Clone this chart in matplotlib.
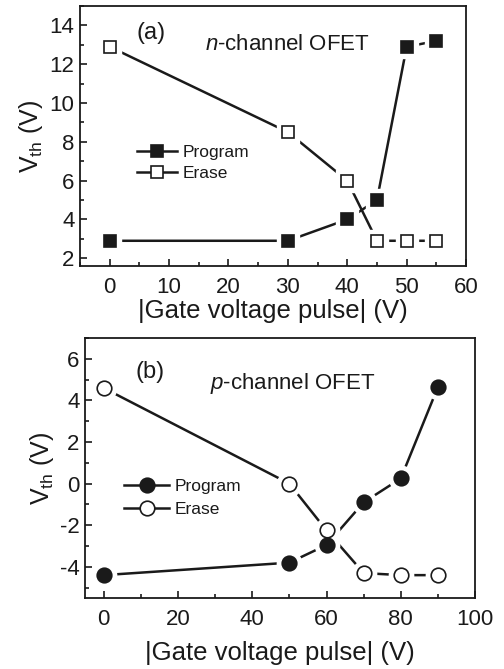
import matplotlib
matplotlib.use("Agg")
import matplotlib.pyplot as plt
from matplotlib.lines import Line2D
from matplotlib.ticker import MultipleLocator

plt.rcParams['font.family'] = ['Liberation Sans', 'DejaVu Sans']
plt.rcParams['mathtext.fontset'] = 'custom'
plt.rcParams['mathtext.rm'] = 'Liberation Sans'
plt.rcParams['mathtext.it'] = 'Liberation Sans:italic'
plt.rcParams['axes.unicode_minus'] = False

# Panel (a): n-channel OFET
a_x = [0, 30, 40, 45, 50, 55]
a_program = [2.9, 2.9, 4.0, 5.0, 12.9, 13.2]
a_erase = [12.9, 8.5, 6.0, 2.9, 2.9, 2.9]

# Panel (b): p-channel OFET
b_x = [0, 50, 60, 70, 80, 90]
b_program = [-4.4, -3.8, -2.95, -0.9, 0.25, 4.65]
b_erase = [4.6, 0.0, -2.25, -4.3, -4.4, -4.4]

fig = plt.figure(figsize=(5.04, 6.69), dpi=100)
ax1 = fig.add_axes([0.1587, 0.6024, 0.766, 0.3886])
ax2 = fig.add_axes([0.1687, 0.1061, 0.774, 0.3886])

LW = 1.8
DARK = '#1a1a1a'

def series(ax, x, y, marker, ms, filled):
    ax.plot(x, y, '-', color=DARK, lw=LW, zorder=2)
    ax.plot(x, y, ls='none', marker=marker, ms=ms + 7, mfc='white', mec='white', zorder=3)
    ax.plot(x, y, ls='none', marker=marker, ms=ms, mfc=DARK if filled else 'white',
            mec=DARK, mew=1.2, zorder=4)
    return Line2D([], [], color=DARK, lw=LW, marker=marker, ms=ms,
                  mfc=DARK if filled else 'white', mec=DARK, mew=1.2)

h1 = series(ax1, a_x, a_program, 's', 8.8, True)
h2 = series(ax1, a_x, a_erase, 's', 8.8, False)
h3 = series(ax2, b_x, b_program, 'o', 10.5, True)
h4 = series(ax2, b_x, b_erase, 'o', 10.5, False)

for ax, lp in ((ax1, 0.5), (ax2, 8)):
    ax.tick_params(axis='both', which='both', direction='in', top=False, right=False,
                   labelsize=16, width=1.2, colors=DARK)
    ax.tick_params(axis='x', which='major', pad=8)
    ax.tick_params(axis='y', which='major', pad=4)
    ax.tick_params(which='major', length=5)
    ax.tick_params(which='minor', length=3)
    for s in ax.spines.values():
        s.set_linewidth(1.3)
        s.set_color(DARK)
    ax.set_xlabel('|Gate voltage pulse| (V)', fontsize=18.5, labelpad=lp, color=DARK)
    ax.set_ylabel(r'$\mathrm{V_{th}}$ (V)', fontsize=18, labelpad=3, color=DARK)

ax1.set_xlim(-5, 60)
ax1.set_ylim(1.6, 15)
ax1.xaxis.set_major_locator(MultipleLocator(10))
ax1.xaxis.set_minor_locator(MultipleLocator(5))
ax1.yaxis.set_major_locator(MultipleLocator(2))
ax1.yaxis.set_minor_locator(MultipleLocator(1))

ax2.set_xlim(-5, 100)
ax2.set_ylim(-5.5, 7)
ax2.xaxis.set_major_locator(MultipleLocator(20))
ax2.xaxis.set_minor_locator(MultipleLocator(10))
ax2.yaxis.set_major_locator(MultipleLocator(2))
ax2.yaxis.set_minor_locator(MultipleLocator(1))

ax1.text(6.9, 13.6, '(a)', fontsize=17, ha='center', va='center', color=DARK)
ax1.text(30, 13.0, r'$\it{n}$-channel OFET', fontsize=16, ha='center', va='center', color=DARK)
ax2.text(12.5, 5.37, '(b)', fontsize=17, ha='center', va='center', color=DARK)
ax2.text(51, 4.8, r'$\it{p}$-channel OFET', fontsize=16, ha='center', va='center', color=DARK)

ax1.legend([h1, h2], ['Program', 'Erase'], loc='center left', bbox_to_anchor=(0.148, 0.396),
           frameon=False, fontsize=12.5, handlelength=2.3, handletextpad=0.3,
           labelspacing=0.3, borderpad=0, borderaxespad=0, labelcolor=DARK)
ax2.legend([h3, h4], ['Program', 'Erase'], loc='center left', bbox_to_anchor=(0.1, 0.385),
           frameon=False, fontsize=12.5, handlelength=2.6, handletextpad=0.3,
           labelspacing=0.45, borderpad=0, borderaxespad=0, labelcolor=DARK)

fig.savefig('out.png', dpi=100)
